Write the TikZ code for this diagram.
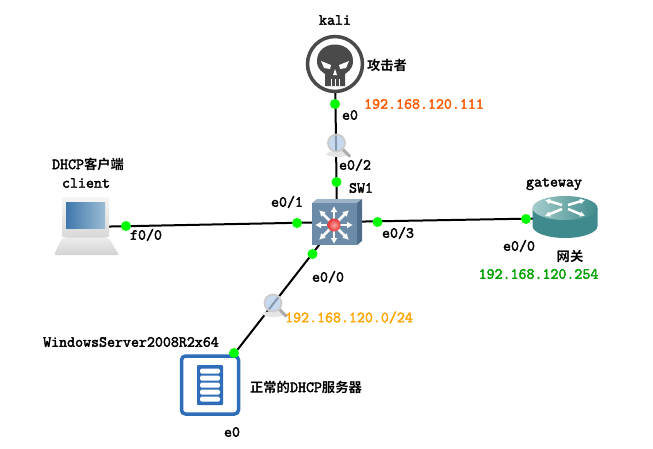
\documentclass[tikz,border=0pt]{standalone}
\usepackage{fontspec}
\setmonofont{Latin Modern Mono}[FakeBold=2.5]
\newfontfamily\cjk{Noto Sans CJK SC}[BoldFont={Noto Sans CJK SC Bold}]
\newcommand{\cn}[1]{{\fontsize{13.3}{14}\selectfont\cjk\bfseries #1}}
\usetikzlibrary{arrows.meta}
\definecolor{ipred}{HTML}{FF5A00}
\definecolor{ipgreen}{HTML}{00A000}
\definecolor{ipamber}{HTML}{FFA500}
\definecolor{srvblue}{HTML}{2F6DB9}
\definecolor{skull}{HTML}{4A4A4A}
\definecolor{swfront}{HTML}{6C8BA8}
\definecolor{swside}{HTML}{4F6E8C}
\definecolor{swtop}{HTML}{9DB4C8}
\definecolor{rtbody}{HTML}{3F8A8C}
\definecolor{rttop}{HTML}{A6CDCC}
\definecolor{lensblue}{HTML}{B5CDEA}
\definecolor{scrdark}{HTML}{3E78AC}
\definecolor{scrlight}{HTML}{9CBCD4}
\tikzset{
	lbl/.style={font=\fontsize{15.5}{16}\selectfont\ttfamily, inner sep=0pt, text=black},
	port/.style={circle, fill=green, inner sep=0pt, minimum size=10pt},
	device/.style={inner sep=0pt, minimum size=40pt},
	link/.style={line width=2pt, black},
	lens/.style={inner sep=0pt, minimum size=16pt}
}
\newcommand{\magnifier}[1]{
	\begin{scope}[shift={#1}]
		\fill[black!10] (1,11) ellipse (11 and 3);
		\draw[line width=3pt, gray!65, line cap=round] (6,6) -- (13,13);
		\fill[lensblue, opacity=0.75] (0,0) circle (8);
		\draw[line width=1.8pt, gray!40] (0,0) circle (8.5);
	\end{scope}
}
\begin{document}
\begin{tikzpicture}[x=1pt, y=-1pt]
	\useasboundingbox[fill=white] (0,0) rectangle (653,448);
	% devices
	\node[device] (kali) at (335,64) {};
	\node[device] (sw) at (337,222) {};
	\node[device] (client) at (86,227) {};
	\node[device] (gateway) at (565,218) {};
	\node[device] (server) at (210,385) {};
	% links
	\foreach \x in {kali, client, gateway, server}
		\draw[link] (\x.center) -- (sw.center);
	% kali
	\begin{scope}[shift={(335,64)}]
		\filldraw[draw=skull, fill=white, line width=3.5pt] (0,0) circle (27.5);
		\fill[skull] (-18,-3) .. controls (-18,-25) and (18,-25) .. (18,-3) .. controls (18,6) and (12,8) .. (10,10) -- (10,22) -- (-10,22) -- (-10,10) .. controls (-12,8) and (-18,6) .. (-18,-3) -- cycle;
		\fill[white] (-14,-3) -- (-4,1) -- (-5,5) -- (-11,4) -- cycle;
		\fill[white] (14,-3) -- (4,1) -- (5,5) -- (11,4) -- cycle;
		\fill[white] (0,5) -- (2,11) -- (-2,11) -- cycle;
		\foreach \x in {-4, 0, 4}
			\draw[white, line width=1pt] (\x,15) -- (\x,22);
	\end{scope}
	% switch
	\fill[swtop] (312,203) -- (317,199) -- (362,199) -- (357,203) -- cycle;
	\fill[swside] (357,203) -- (362,199) -- (362,241) -- (357,245) -- cycle;
	\fill[swfront] (312,203) rectangle (357,245);
	\foreach \a in {0, 90, 180, 270}
		\draw[white, line width=2.5pt, -{Latex[length=6pt, width=7pt]}] (334,225) -- +(\a:19);
	\foreach \a in {45, 135, 225, 315}
		\draw[white, line width=2.5pt, -{Latex[length=6pt, width=7pt]}] (334,225) -- +(\a:21);
	\shade[inner color=red!35!white, outer color=red!70!pink!90!black] (334,225) circle (6.5);
	% client
	\shade[top color=gray!8, bottom color=gray!30, rounded corners=1pt] (62,197) rectangle (109,237);
	\shade[top color=gray!25, bottom color=gray!10] (65,237) rectangle (106,240);
	\shade[top color=gray!15, bottom color=gray!35, rounded corners=2pt] (62,238) -- (109,238) -- (119,255) -- (54,255) -- cycle;
	\shade[shading angle=60, left color=scrdark, right color=scrlight] (66,202) rectangle (105,228);
	% gateway
	\begin{scope}[shift={(565,208)}]
		\fill[rtbody] (-32.5,0) -- (-32.5,18) arc[start angle=180, end angle=0, x radius=32.5, y radius=12] -- (32.5,0) -- cycle;
		\shade[left color=rttop, right color=rtbody] (0,0) ellipse (32.5 and 12);
		\draw[white, line width=2.5pt, -{Latex[length=5pt, width=6pt]}] (-3,-3) -- (-20,-8);
		\draw[white, line width=2.5pt, -{Latex[length=5pt, width=6pt]}] (3,-3) -- (20,-8);
		\draw[white, line width=2.5pt, -{Latex[length=5pt, width=6pt]}] (-3,1) -- (-20,8);
		\draw[white, line width=2.5pt, -{Latex[length=5pt, width=6pt]}] (3,1) -- (20,8);
	\end{scope}
	% server
	\filldraw[draw=srvblue, fill=white, line width=3.5pt, rounded corners=4pt] (181.5,356) rectangle (238.5,414);
	\fill[srvblue, rounded corners=1pt] (197,365) rectangle (223,405);
	\foreach \y in {371, 378, 385, 392, 399}
		\fill[white, rounded corners=1.5pt] (200,\y-2.5) rectangle (220,\y+2.5);
	% magnifiers
	\node[lens] (lensA) at (336.5,143) {};
	\node[lens] (lensB) at (273,303) {};
	\magnifier{(lensA.center)}
	\magnifier{(lensB.center)}
	% ports
	\node[port] (kaliE0) at (335,104) {};
	\node[port] (swE02) at (336.5,182) {};
	\node[port] (swE01) at (297,223) {};
	\node[port] (swE03) at (377.5,222) {};
	\node[port] (swE00) at (312.5,254) {};
	\node[port] (clientF0) at (126,226) {};
	\node[port] (gatewayE0) at (526,219) {};
	\node[port] (serverE0) at (234,353) {};
	% labels
	\node[lbl] (kaliName) at (335,20) {kali};
	\node[lbl] (kaliNote) at (387,65) {\cn{攻击者}};
	\node[lbl, text=ipred] (kaliIp) at (424,104) {192.168.120.111};
	\node[lbl] (kaliPort) at (350,115) {e0};
	\node[lbl] (swPort2) at (355,165) {e0/2};
	\node[lbl] (swName) at (361,188) {SW1};
	\node[lbl] (swPort1) at (287,202) {e0/1};
	\node[lbl] (swPort3) at (398,233) {e0/3};
	\node[lbl] (swPort0) at (328,277) {e0/0};
	\node[lbl] (clientPort) at (146,235) {f0/0};
	\node[lbl] (clientNote) at (88,164) {DHCP\cn{客户端}};
	\node[lbl] (clientName) at (86,183) {client};
	\node[lbl] (gatewayName) at (554,184) {gateway};
	\node[lbl] (gatewayPort) at (519,246) {e0/0};
	\node[lbl] (gatewayNote) at (570,256) {\cn{网关}};
	\node[lbl, text=ipgreen] (gatewayIp) at (538.5,274) {192.168.120.254};
	\node[lbl, text=ipamber] (netIp) at (349,317.5) {192.168.120.0/24};
	\node[lbl] (serverName) at (131,342) {WindowsServer2008R2x64};
	\node[lbl] (serverNote) at (306,387) {\cn{正常的}DHCP\cn{服务器}};
	\node[lbl] (serverPort) at (232,432) {e0};
\end{tikzpicture}
\end{document}
